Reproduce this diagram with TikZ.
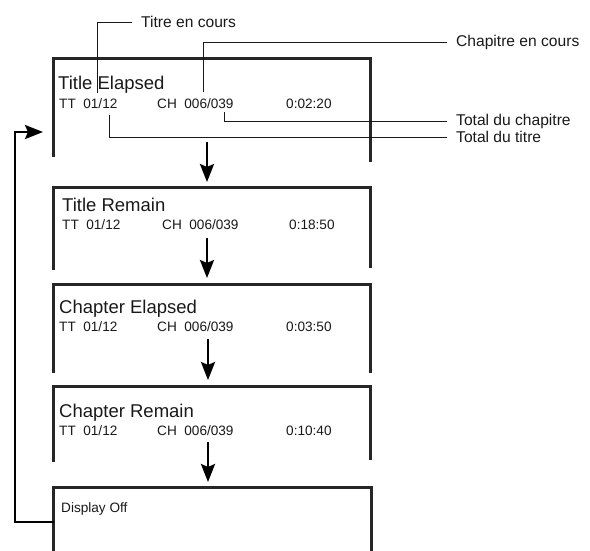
\documentclass[tikz,border=0pt]{standalone}
\usepackage{fontspec}
\setmainfont{Liberation Sans}
\usetikzlibrary{arrows.meta}

\begin{document}
\begin{tikzpicture}[x=1pt,y=-1pt,
screen/.style={line width=3pt, draw=black!85, line join=miter},
lead/.style={line width=0.9pt, draw=black!90},
flow/.style={line width=2.7pt, line join=miter, -{Stealth[length=18pt,width=14pt,inset=3pt]}},
stitle/.style={anchor=base west, inner sep=0pt, text=black!90, font=\fontsize{18.5}{20}\selectfont},
srow/.style={anchor=base west, inner sep=0pt, text=black!90, font=\fontsize{13.6}{15}\selectfont},
callout/.style={anchor=west, inner xsep=9pt, inner ysep=0pt, text=black!90, font=\fontsize{15.6}{17}\selectfont}]
\useasboundingbox (0,0) rectangle (590,550);

% screens, open at the bottom
\draw[screen] (53,157) -- (53,58) -- (370,58) -- (370,162);
\draw[screen] (53,270) -- (53,187) -- (370,187) -- (370,268);
\draw[screen] (53,373) -- (53,284) -- (370,284) -- (370,373);
\draw[screen] (53,462) -- (53,386) -- (370,386) -- (370,460);
\draw[screen] (53,560) -- (53,487) -- (371,487) -- (371,560);

\node[stitle] (el-name) at (58,89) {Title Elapsed};
\node[srow] (el-tt) at (59,108) {TT~~01/12};
\node[srow] (el-ch) at (157,108) {CH~~006/039};
\node[srow] (el-time) at (286,108) {0:02:20};

\node[stitle] (rem-name) at (62,211) {Title Remain};
\node[srow] (rem-tt) at (62,229) {TT~~01/12};
\node[srow] (rem-ch) at (162,229) {CH~~006/039};
\node[srow] (rem-time) at (289,229) {0:18:50};

\node[stitle] (chel-name) at (59,313) {Chapter Elapsed};
\node[srow] (chel-tt) at (59,331) {TT~~01/12};
\node[srow] (chel-ch) at (157,331) {CH~~006/039};
\node[srow] (chel-time) at (286,331) {0:03:50};

\node[stitle] (chrem-name) at (59,417) {Chapter Remain};
\node[srow] (chrem-tt) at (59,435) {TT~~01/12};
\node[srow] (chrem-ch) at (157,435) {CH~~006/039};
\node[srow] (chrem-time) at (286,435) {0:10:40};

\node[srow] (off-name) at (61,512) {Display Off};

% flow between the screens
\coordinate (el-out) at (207,142);   \coordinate (rem-in) at (207,182);
\coordinate (rem-out) at (207,238);  \coordinate (chel-in) at (207,278);
\coordinate (chel-out) at (208,339); \coordinate (chrem-in) at (208,380);
\coordinate (chrem-out) at (208,442);\coordinate (off-in) at (208,482);
\coordinate (off-back) at (54,522);  \coordinate (el-back) at (43,132);
\draw[flow] (el-out) -- (rem-in);
\draw[flow] (rem-out) -- (chel-in);
\draw[flow] (chel-out) -- (chrem-in);
\draw[flow] (chrem-out) -- (off-in);
\draw[flow] (off-back) -- ++(-39,0) |- (el-back);

% call-outs
\node[callout] (lbl-titre) at (132,22) {Titre en cours};
\node[callout] (lbl-chap) at (447,42) {Chapitre en cours};
\node[callout] (lbl-totch) at (447,121) {Total du chapitre};
\node[callout] (lbl-totti) at (447,137) {Total du titre};
\coordinate (titre-pt) at (97,93);
\coordinate (chap-pt) at (203,92);
\coordinate (totch-pt) at (224,112);
\coordinate (totti-pt) at (109,115);
\draw[lead] (titre-pt) |- (lbl-titre.west);
\draw[lead] (chap-pt) |- (lbl-chap.west);
\draw[lead] (totch-pt) |- (lbl-totch.west);
\draw[lead] (totti-pt) |- (lbl-totti.west);
\end{tikzpicture}
\end{document}
